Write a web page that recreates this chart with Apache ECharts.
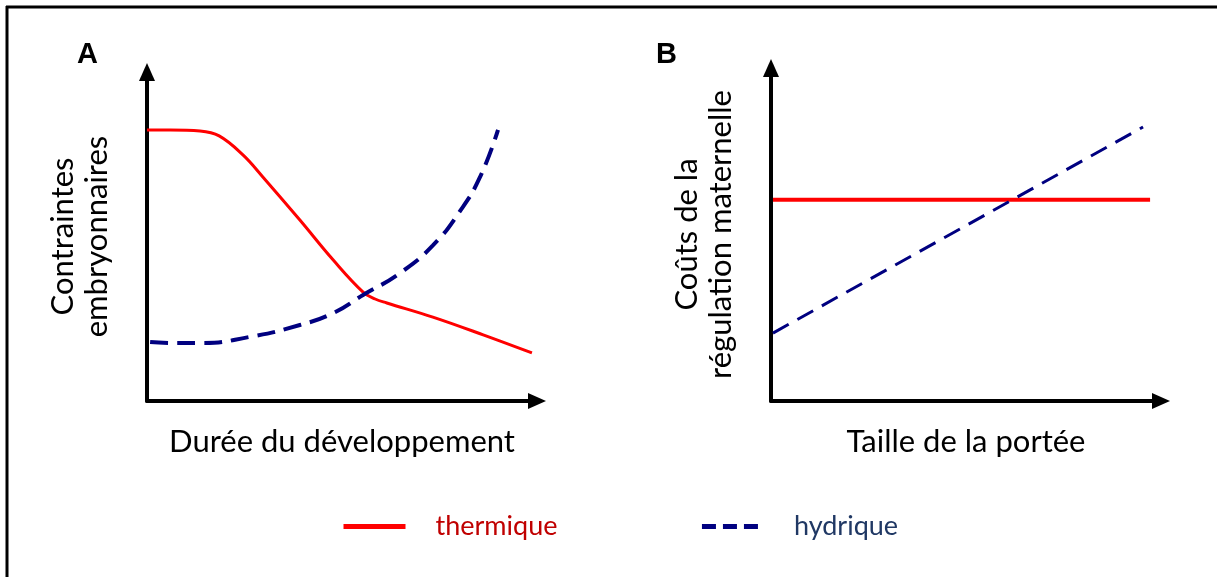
<!DOCTYPE html>
<html>
<head>
<meta charset="utf-8">
<script src="https://cdn.jsdelivr.net/npm/echarts@6/dist/echarts.min.js"></script>
<style>
  html, body { margin: 0; padding: 0; background: #fff; }
  #chart { width: 1217px; height: 577px; }
</style>
</head>
<body>
<div id="chart"></div>
<script>
// panel A : durée du développement (x) vs contraintes (y), 0-100 both
const aThermX = [0, 6, 13.6, 18.5, 24.6, 29.7, 39.2, 47.7, 55.4, 58.5, 61.5, 73.3, 86.2, 98.7]
const aThermY = [82.4, 82.4, 82.1, 80.6, 74.8, 68.1, 55.0, 42.9, 33.1, 31.0, 29.8, 25.5, 20.1, 14.6]
const aHydX = [0.8, 7.2, 13.6, 26.4, 39.2, 47.7, 55.4, 64.9, 73.3, 80.3, 85.4, 90.0]
const aHydY = [17.9, 17.6, 17.6, 19.5, 23.1, 26.7, 32.2, 38.9, 47.3, 57.8, 68.1, 82.4]
// panel B : taille de la portée (x) vs coûts (y)
const bThermX = [0.5, 97.2]
const bThermY = [60.4, 60.4]
const bHydX = [0.5, 95.4]
const bHydY = [20.4, 82.3]

const panelLetters = ['A', 'B']
const xNames = ['Durée du développement', 'Taille de la portée']
const yNames = ['Contraintes\nembryonnaires', 'Coûts de la\nrégulation maternelle']
const legendNames = ['thermique', 'hydrique']

const zip = (xs, ys) => xs.map((x, i) => [x, ys[i]])

const red = '#ff0000'
const navy = '#000080'
const font = 'Lato'

const axisLine = {
  show: true,
  symbol: ['none', 'triangle'],
  symbolSize: [16, 18],
  lineStyle: { color: '#000', width: 4 }
}

function makeX (i) {
  return {
    type: 'value', gridIndex: i, min: 0, max: 100,
    name: xNames[i], nameLocation: 'middle', nameGap: 25,
    nameTextStyle: { fontFamily: font, fontSize: 31, color: '#000' },
    axisLine: axisLine,
    axisTick: { show: false }, axisLabel: { show: false }, splitLine: { show: false }
  }
}
function makeY (i) {
  return {
    type: 'value', gridIndex: i, min: 0, max: 100,
    name: yNames[i], nameLocation: 'middle', nameGap: 33, nameRotate: 90,
    nameTextStyle: { fontFamily: font, fontSize: 31, color: '#000', lineHeight: 34 },
    axisLine: axisLine,
    axisTick: { show: false }, axisLabel: { show: false }, splitLine: { show: false }
  }
}

const chart = echarts.init(document.getElementById('chart'))
chart.setOption({
  animation: false,
  backgroundColor: '#fff',
  title: [
    { text: panelLetters[0], left: 72, top: 35, textStyle: { fontFamily: 'Liberation Sans', fontWeight: 'bold', fontSize: 29, color: '#000' } },
    { text: panelLetters[1], left: 651, top: 35, textStyle: { fontFamily: 'Liberation Sans', fontWeight: 'bold', fontSize: 29, color: '#000' } }
  ],
  grid: [
    { left: 147, top: 72, width: 390, height: 329 },
    { left: 771, top: 68, width: 390, height: 333 }
  ],
  xAxis: [makeX(0), makeX(1)],
  yAxis: [makeY(0), makeY(1)],
  legend: {
    left: 336, top: 508,
    itemWidth: 62, itemHeight: 14, itemGap: 142,
    itemStyle: { opacity: 0 },
    textStyle: { fontFamily: font, fontSize: 27, padding: [0, 0, 0, 25] },
    data: [
      { name: legendNames[0], textStyle: { color: '#c00000' }, lineStyle: { width: 5 } },
      { name: legendNames[1], textStyle: { color: '#203864' }, lineStyle: { width: 5, type: [14, 7] } }
    ]
  },
  series: [
    {
      name: legendNames[0], type: 'line', xAxisIndex: 0, yAxisIndex: 0,
      data: zip(aThermX, aThermY), smooth: 0.4, symbol: 'none', silent: true,
      lineStyle: { color: red, width: 3 }, itemStyle: { color: red }
    },
    {
      name: legendNames[1], type: 'line', xAxisIndex: 0, yAxisIndex: 0,
      data: zip(aHydX, aHydY), smooth: 0.5, symbol: 'none', silent: true,
      lineStyle: { color: navy, width: 4, type: [18, 9] }, itemStyle: { color: navy }
    },
    {
      name: legendNames[0], type: 'line', xAxisIndex: 1, yAxisIndex: 1,
      data: zip(bThermX, bThermY), symbol: 'none', silent: true,
      lineStyle: { color: red, width: 4 }, itemStyle: { color: red }
    },
    {
      name: legendNames[1], type: 'line', xAxisIndex: 1, yAxisIndex: 1,
      data: zip(bHydX, bHydY), symbol: 'none', silent: true,
      lineStyle: { color: navy, width: 3, type: [18, 10] }, itemStyle: { color: navy }
    }
  ],
  graphic: [
    { type: 'line', shape: { x1: 6, y1: 7, x2: 1217, y2: 7 }, style: { stroke: '#000', lineWidth: 3 } },
    { type: 'line', shape: { x1: 7, y1: 6, x2: 7, y2: 577 }, style: { stroke: '#000', lineWidth: 3 } }
  ]
})
</script>
</body>
</html>
